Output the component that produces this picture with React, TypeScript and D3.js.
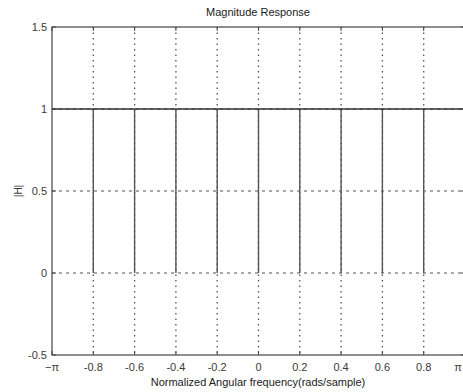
import React from "react";
import * as d3 from "d3";

// Normalized frequency samples (units of π) and the magnitude at each one
const freqs = [-1, -0.8, -0.6, -0.4, -0.2, 0, 0.2, 0.4, 0.6, 0.8, 1];
const magnitude = [1, 1, 1, 1, 1, 1, 1, 1, 1, 1, 1];

const xTicks = [-1, -0.8, -0.6, -0.4, -0.2, 0, 0.2, 0.4, 0.6, 0.8, 1];
const xTickLabels = ["\u2212\u03c0", "-0.8", "-0.6", "-0.4", "-0.2", "0", "0.2", "0.4", "0.6", "0.8", "\u03c0"];
const yTicks = [-0.5, 0, 0.5, 1, 1.5];
const yTickLabels = ["-0.5", "0", "0.5", "1", "1.5"];

const W = 463;
const H = 392;
const left = 52;
const right = 465;
const top = 27;
const bottom = 355;

export default function App() {
  const x = d3.scaleLinear().domain([-1, 1]).range([left, right]);
  const y = d3.scaleLinear().domain([-0.5, 1.5]).range([bottom, top]);
  const line = d3
    .line<number>()
    .x((_, i) => x(freqs[i]))
    .y((d) => y(d));

  const font = "Arial, 'Liberation Sans', sans-serif";
  const textColor = "#3a3a3a";
  const axisColor = "#444";

  return (
    <svg
      width={W}
      height={H}
      style={{ position: "fixed", left: 0, top: 0, background: "#fff" }}
      fontFamily={font}
    >
      <rect x={0} y={0} width={W} height={H} fill="#fff" />
      {/* dotted vertical grid */}
      {xTicks.slice(1, -1).map((t) => (
        <line
          key={"gx" + t}
          x1={x(t)}
          x2={x(t)}
          y1={top}
          y2={bottom}
          stroke="#555"
          strokeWidth={1.3}
          strokeDasharray="1.5 4"
        />
      ))}
      {/* dashed horizontal grid */}
      {yTicks.slice(1, -1).map((t) => (
        <line
          key={"gy" + t}
          x1={left}
          x2={right}
          y1={y(t)}
          y2={y(t)}
          stroke="#555"
          strokeWidth={1.2}
          strokeDasharray="3 4"
        />
      ))}
      {/* stems from zero up to the magnitude */}
      {freqs.slice(1, -1).map((f, i) => (
        <line
          key={"st" + f}
          x1={x(f)}
          x2={x(f)}
          y1={y(0)}
          y2={y(magnitude[i + 1])}
          stroke="#555"
          strokeWidth={1.4}
        />
      ))}
      {/* magnitude response */}
      <path d={line(magnitude) || ""} fill="none" stroke="#333" strokeWidth={1.6} />
      {/* axes box */}
      <rect
        x={left}
        y={top}
        width={right - left}
        height={bottom - top}
        fill="none"
        stroke={axisColor}
        strokeWidth={1.2}
      />
      {/* ticks */}
      {xTicks.map((t) => (
        <g key={"tx" + t}>
          <line x1={x(t)} x2={x(t)} y1={bottom} y2={bottom - 4} stroke={axisColor} />
          <line x1={x(t)} x2={x(t)} y1={top} y2={top + 4} stroke={axisColor} />
        </g>
      ))}
      {yTicks.map((t) => (
        <g key={"ty" + t}>
          <line x1={left} x2={left + 4} y1={y(t)} y2={y(t)} stroke={axisColor} />
          <line x1={right} x2={right - 4} y1={y(t)} y2={y(t)} stroke={axisColor} />
        </g>
      ))}
      {/* tick labels; the last one is kept inside the visible area */}
      {xTicks.map((t, i) => (
        <text
          key={"lx" + t}
          x={Math.min(x(t), W - 5)}
          y={bottom + 16}
          textAnchor="middle"
          fontSize={11}
          fill={textColor}
        >
          {xTickLabels[i]}
        </text>
      ))}
      {yTicks.map((t, i) => (
        <text
          key={"ly" + t}
          x={left - 5}
          y={y(t) + 4}
          textAnchor="end"
          fontSize={11}
          fill={textColor}
        >
          {yTickLabels[i]}
        </text>
      ))}
      {/* title and axis labels */}
      <text x={258} y={16} textAnchor="middle" fontSize={11} fill="#222">
        Magnitude Response
      </text>
      <text
        x={0}
        y={0}
        transform={`translate(22, ${y(0.5)}) rotate(-90)`}
        textAnchor="middle"
        fontSize={10}
        fill={textColor}
      >
        |H|
      </text>
      <text x={258} y={386} textAnchor="middle" fontSize={11} fill="#222">
        Normalized Angular frequency(rads/sample)
      </text>
    </svg>
  );
}
